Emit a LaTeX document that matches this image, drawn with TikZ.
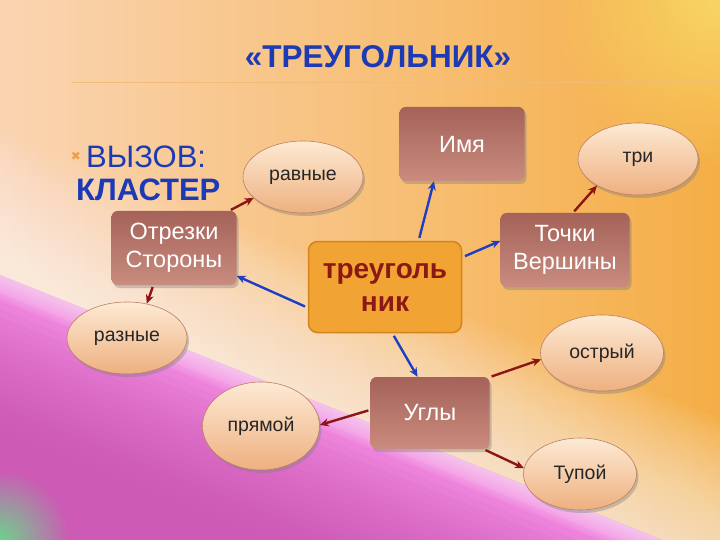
\documentclass[tikz,border=0pt]{standalone}
\usepackage{xcolor}
\usepackage{fontspec}
\setmainfont{Liberation Sans}
\newfontfamily\dejavu{DejaVu Sans}
\usepackage{tikz}
\usetikzlibrary{shapes.geometric,shadows,fadings,arrows.meta}

\definecolor{titleblue}{RGB}{28,58,182}
\definecolor{arrblue}{RGB}{30,62,196}
\definecolor{arrred}{RGB}{140,22,22}
\definecolor{boxtop}{RGB}{164,98,90}
\definecolor{boxbot}{RGB}{202,140,126}
\definecolor{ovtop}{RGB}{253,234,212}
\definecolor{ovbot}{RGB}{238,176,128}
\definecolor{ovline}{RGB}{186,128,100}
\definecolor{centfill}{RGB}{241,164,52}
\definecolor{centline}{RGB}{212,132,28}
\definecolor{centtext}{RGB}{140,24,20}
\definecolor{bgpeach}{RGB}{250,212,178}
\definecolor{bgorange}{RGB}{245,174,70}
\definecolor{bgpink}{RGB}{244,140,226}
\definecolor{bgmagenta}{RGB}{196,78,170}
\definecolor{glowyellow}{RGB}{248,214,100}
\definecolor{glowgreen}{RGB}{110,210,140}
\definecolor{crossorange}{RGB}{236,160,70}
\definecolor{ruleline}{RGB}{240,188,120}

\tikzfading[name=glow, inner color=transparent!0, outer color=transparent!100]

\tikzstyle{shade} = [drop shadow={shadow xshift=2pt, shadow yshift=-3pt, opacity=0.4}]
\tikzstyle{ovalnode} = [ellipse, draw=ovline, line width=0.6pt, top color=ovtop, bottom color=ovbot, minimum width=120pt, minimum height=72pt, inner sep=0pt, text=black!85, font=\fontsize{19.5}{23}\selectfont, shade]
\tikzstyle{boxnode} = [rectangle, rounded corners=6pt, top color=boxtop, bottom color=boxbot, text=white, align=center, minimum width=125pt, minimum height=74pt, font=\fontsize{23.5}{28}\selectfont, shade]
\tikzstyle{centerbox} = [rectangle, rounded corners=9pt, fill=centfill, draw=centline, line width=1.5pt, text=centtext, align=center, minimum width=153pt, minimum height=91pt, font=\fontsize{28}{33}\selectfont\bfseries]
\tikzstyle{bluearrow} = [-{Stealth[length=9pt,width=8pt]}, line width=2.4pt, draw=arrblue, shorten <=3pt]
\tikzstyle{redarrow} = [-{Stealth[length=9pt,width=8pt]}, line width=2.4pt, draw=arrred, shorten <=2pt]

\begin{document}
\begin{tikzpicture}[x=1pt,y=-1pt]
  \useasboundingbox (0,0) rectangle (720,540);
  \begin{scope}
    \clip (0,0) rectangle (720,540);
    \fill[left color=bgpeach, right color=bgorange] (0,0) rectangle (720,540);
    \fill[glowyellow, path fading=glow] (720,0) circle (170);
    \foreach \i in {1,...,24}
      \fill[white, opacity=0.045] (0,275-\i*6) -- (720,563-\i*6) -- (720,563) -- (0,275) -- cycle;
    \fill[bgpink] (0,275) -- (720,563) -- (720,800) -- (0,800) -- cycle;
    \foreach \i in {1,...,18}
      \fill[bgmagenta, opacity=0.07] (0,285+\i*8) -- (720,573+\i*8) -- (720,800) -- (0,800) -- cycle;
    \foreach \i in {1,...,8}
      \fill[white, opacity=0.08] (0,275) -- (720,563) -- (720,563+\i*3) -- (0,275+\i*3) -- cycle;
    \fill[glowgreen, path fading=glow] (0,540) circle (70);
  \end{scope}

  \node[text=titleblue, font=\fontsize{31.5}{36}\selectfont\bfseries] (title) at (378,57) {«ТРЕУГОЛЬНИК»};
  \draw[ruleline, line width=1pt] (72,83) -- (720,83);
  \node[text=crossorange, font=\dejavu\fontsize{12}{14}\selectfont] (cross) at (76,156) {✖};
  \node[anchor=west, inner sep=0pt, text=titleblue, font=\fontsize{31}{35}\selectfont] (vyzov) at (86,157) {ВЫЗОВ:};
  \node[anchor=west, inner sep=0pt, text=titleblue, font=\fontsize{31}{35}\selectfont\bfseries] (klaster) at (76,190) {КЛАСТЕР};

  \node[ovalnode] (ravnye) at (303,177) {равные};
  \node[boxnode] (imya) at (462,144) {Имя};
  \node[ovalnode] (tri) at (638,159) {три};
  \node[boxnode] (otrezki) at (174,248) {Отрезки\\Стороны};
  \node[centerbox] (treug) at (385,287) {треуголь\\ник};
  \node[boxnode, minimum width=129pt] (tochki) at (565,250) {Точки\\Вершины};
  \node[ovalnode] (raznye) at (127,338) {разные};
  \node[ovalnode, minimum width=123pt, minimum height=76pt] (ostry) at (602,353) {острый};
  \node[boxnode, minimum width=119pt, minimum height=72pt] (ugly) at (430,413) {Углы};
  \node[ovalnode, minimum width=117pt, minimum height=88pt] (pryamoy) at (261,426) {прямой};
  \node[ovalnode, minimum width=113pt] (tupoy) at (580,474) {Тупой};

  \draw[bluearrow] (treug.54) -- (imya.-127);
  \draw[bluearrow] (treug.21) -- (tochki.172);
  \draw[bluearrow] (treug.195) -- (otrezki.-24);
  \draw[bluearrow] (treug.-81) -- (ugly.109);
  \draw[redarrow] (otrezki.34) -- (ravnye.203);
  \draw[redarrow] (otrezki.241) -- (raznye.60);
  \draw[redarrow] (tochki.78) -- (tri.213);
  \draw[redarrow] (ugly.31) -- (ostry.186);
  \draw[redarrow] (ugly.177) -- (pryamoy.1);
  \draw[redarrow] (ugly.-34) -- (tupoy.174);
\end{tikzpicture}
\end{document}
